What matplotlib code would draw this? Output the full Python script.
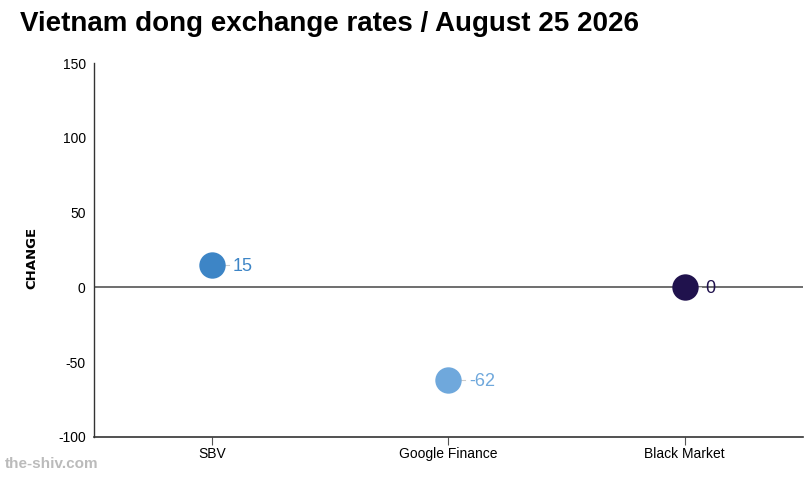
import matplotlib.pyplot as plt

plt.rcParams['font.family'] = ['Liberation Sans', 'DejaVu Sans']

# data
categories = ['SBV', 'Google Finance', 'Black Market']
changes = [15, -62, 0]
colors = ['#3d85c6', '#6fa8dc', '#20124d']
y_ticks = [-100, -50, 0, 50, 100, 150]

fig = plt.figure(figsize=(8.1, 4.79), dpi=100)
ax = fig.add_axes([0.116, 0.0877, 0.875, 0.7803])

ax.axhline(0, color='#555555', linewidth=1.2, zorder=1)

for i, (val, col) in enumerate(zip(changes, colors)):
    # small leader line to the value label
    ax.plot([i, i + 0.07], [val, val], color='#cccccc', linewidth=0.8, zorder=2)
    ax.plot(i, val, 'o', markersize=19, color=col, markeredgewidth=0, zorder=3)
    ax.text(i + 0.088, val - 1, str(val), color=col, fontsize=13,
            va='center', ha='left', zorder=4)

ax.set_xlim(-0.5, 2.5)
ax.set_ylim(-100, 150)
ax.set_xticks(range(len(categories)))
ax.set_xticklabels(categories, fontsize=10)
ax.set_yticks(y_ticks)
ax.set_yticklabels([str(t) for t in y_ticks], fontsize=10)
ax.tick_params(axis='y', length=0, pad=6)
ax.tick_params(axis='x', length=6, color='#555555', pad=1)

for s in ['top', 'right']:
    ax.spines[s].set_visible(False)
ax.spines['left'].set_color('#333333')
ax.spines['bottom'].set_color('#333333')
ax.spines['left'].set_linewidth(1.0)
ax.spines['bottom'].set_linewidth(1.2)

ax.set_ylabel('CHANGE', fontsize=9.5, fontweight='bold', family='DejaVu Sans')
ax.yaxis.set_label_coords(-0.078, 0.48)

fig.text(0.025, 0.95, 'Vietnam dong exchange rates / August 25 2026',
         fontsize=20, fontweight='bold', ha='left', va='center')
fig.text(0.006, 0.031, 'the-shiv.com', fontsize=11, fontweight='bold',
         color='#bbbbbb', ha='left', va='center')

fig.savefig('out.png', dpi=100)
